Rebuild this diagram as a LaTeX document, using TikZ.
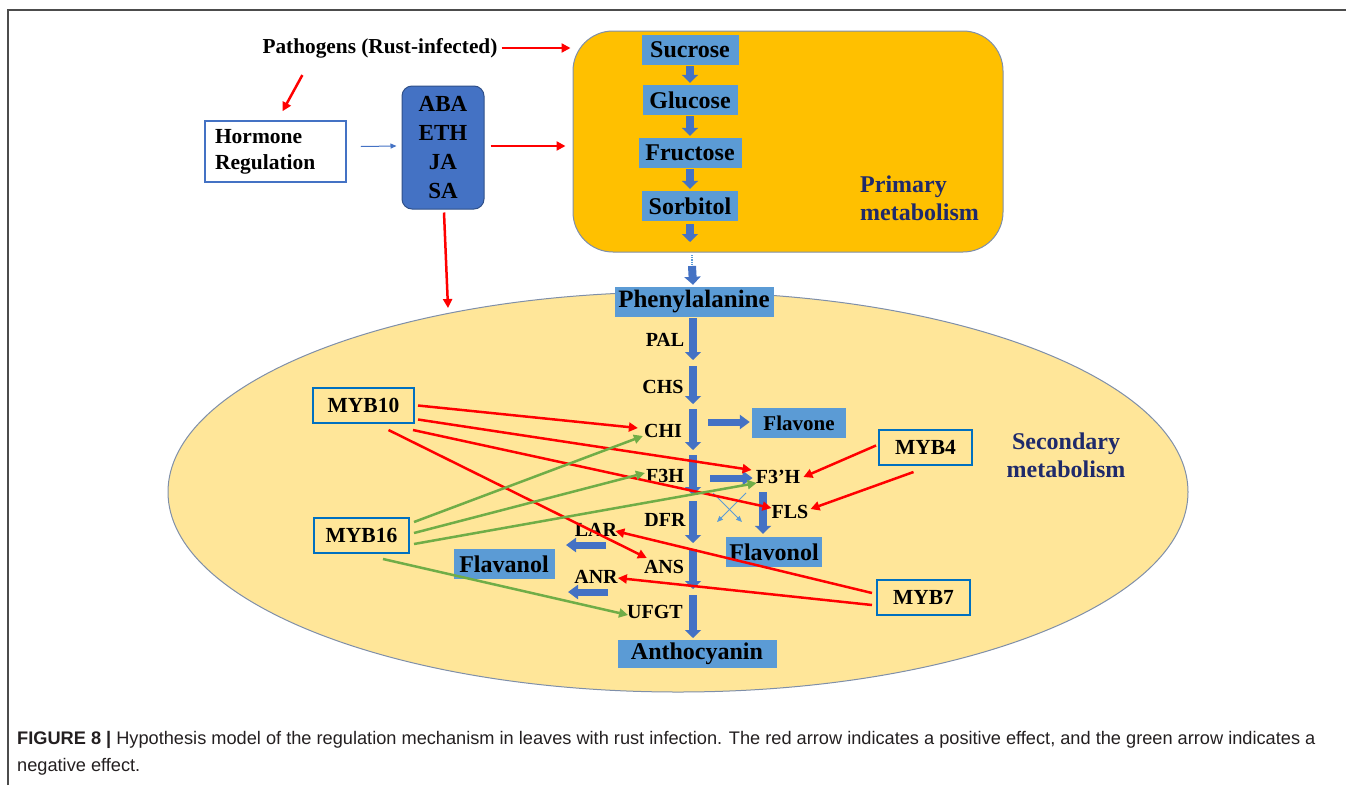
\documentclass[tikz,border=0pt]{standalone}
\usepackage{fontspec}
\setmainfont{Liberation Serif}
\setsansfont{Liberation Sans}
\usetikzlibrary{arrows.meta,calc}
\definecolor{boxblue}{HTML}{5B9BD5}
\definecolor{darkblue}{HTML}{4472C4}
\definecolor{mybblue}{HTML}{0070C0}
\definecolor{prim}{HTML}{FFC000}
\definecolor{sec}{HTML}{FFE699}
\definecolor{navy}{HTML}{1F2A6B}
\definecolor{posred}{HTML}{FF0000}
\definecolor{neggreen}{HTML}{70AD47}
\definecolor{captxt}{HTML}{231F20}
\definecolor{edgegray}{HTML}{7F8FA9}
\begin{document}
\begin{tikzpicture}[x=1pt,y=-1pt,
  every node/.style={inner sep=0pt},
  met/.style={fill=boxblue, minimum height=30, font=\fontsize{24}{26}\selectfont\bfseries},
  enz/.style={font=\fontsize{20}{22}\selectfont\bfseries},
  mybbox/.style={draw=mybblue, line width=2, minimum width=93, minimum height=35, font=\fontsize{21.5}{22}\selectfont\bfseries},
  posarrow/.style={draw=posred, line width=2.5, -{Triangle[length=9pt,width=9pt]}},
  negarrow/.style={draw=neggreen, line width=2.5, -{Triangle[length=9pt,width=9pt]}},
  blk/.style={draw=darkblue, line width=8, -{Triangle[length=8pt,width=16pt]}},
  thinblue/.style={draw=darkblue, line width=1, -{Triangle[length=6pt,width=5pt]}},
]
\useasboundingbox (0,0) rectangle (1346,785);
% frame
\draw[black!70, line width=1.5] (8,785) -- (8,10) -- (1346,10);

% primary metabolism container
\node[draw=edgegray, line width=1, fill=prim, rounded corners=40, minimum width=430, minimum height=221] (prim) at (788,141.5) {};
\node[anchor=west, align=left, text=navy, font=\fontsize{24}{28}\selectfont\bfseries] (primlbl) at (860,198) {Primary\\metabolism};

% secondary metabolism ellipse
\draw[edgegray, line width=1, fill=sec] (678,492) ellipse [x radius=510, y radius=200];
\coordinate (secTop) at (448,308);
\node[align=center, text=navy, font=\fontsize{24}{28}\selectfont\bfseries] (seclbl) at (1066,455) {Secondary\\metabolism};

% top-left
\node[font=\fontsize{21.3}{22}\selectfont\bfseries] (path) at (380,48) {Pathogens (Rust-infected)};
\node[draw=darkblue, line width=1.5, fill=white, minimum width=141, minimum height=61, text width=121, align=left, inner xsep=10, font=\fontsize{21.5}{26}\selectfont\bfseries] (horm) at (275.5,151.5) {Hormone\\Regulation};
\node[draw=darkblue!70!black, line width=1, fill=darkblue, rounded corners=10, minimum width=82, minimum height=123, align=center, font=\fontsize{23}{29}\selectfont\bfseries] (aba) at (443,147.5) {ABA\\ETH\\JA\\SA};

\draw[posarrow] ($(path.east)+(4,0)$) -- ($(prim.west |- path.east)+(-2,0)$);
\draw[posarrow] ($(path.south west)+(40,17)$) -- ($(horm.north)+(7,-9)$);
\draw[thinblue] ($(horm.east)+(14,-5)$) -- ($(aba.west)+(-5,-1.5)$);
\draw[posarrow] ($(aba.east)+(6,-1.5)$) -- ($(prim.west)+(-7,4.5)$);
\draw[posarrow] ($(aba.south)+(1,3)$) -- (secTop);

% primary chain
\node[met, minimum width=97] (suc) at (690,50) {Sucrose};
\node[met, minimum width=95] (glu) at (690,100) {Glucose};
\node[met, minimum width=103] (fru) at (690,153) {Fructose};
\node[met, minimum width=96] (sor) at (690,206) {Sorbitol};
\coordinate (sorOut) at (690,242);
\draw[blk] ($(suc.south)+(0,1)$) -- ($(glu.north)+(0,-2)$);
\draw[blk] ($(glu.south)+(0,1)$) -- ($(fru.north)+(0,-2)$);
\draw[blk] ($(fru.south)+(0,1)$) -- ($(sor.north)+(0,-2)$);
\draw[blk] ($(sor.south)+(0,3)$) -- (sorOut);

% phenylalanine
\node[met, minimum width=159, font=\fontsize{25}{26}\selectfont\bfseries] (phe) at (694,302) {Phenylalanine};
\coordinate (dotA) at (692,255);
\coordinate (dotB) at (692,266);
\draw[boxblue, line width=1.2, densely dotted] (dotA) -- (dotB);
\draw[blk] (dotB) -- ($(phe.north)+(-1,-2)$);

% enzymes
\node[enz] (pal) at (665,340) {PAL};
\node[enz] (chs) at (663,387) {CHS};
\node[enz] (chi) at (663,431) {CHI};
\node[enz] (f3h) at (665,476) {F3H};
\node[enz] (dfr) at (665,520) {DFR};
\node[enz] (ans) at (664,567) {ANS};
\node[enz] (ufgt) at (655,612) {UFGT};
\node[met, minimum width=159, minimum height=28] (anth) at (697,654) {Anthocyanin};

% main pathway arrows
\foreach \a/\b in {318/360, 366/404, 409/450, 455/495, 501/543, 549/589, 595/638}{
  \draw[blk] (693,\a) -- (693,\b);
}

% flavone / flavonol branch
\node[met, minimum width=94, font=\fontsize{21}{24}\selectfont\bfseries] (flavone) at (799,423) {Flavone};
\node[enz] (f3ph) at (778,477) {F3’H};
\node[enz] (fls) at (790,512) {FLS};
\node[met, minimum width=96] (flavonol) at (774,552) {Flavonol};
\draw[blk, line width=7, -{Triangle[length=10pt,width=14pt]}] (708,422) -- ($(flavone.west)+(-2,-1)$);
\draw[blk, line width=7, -{Triangle[length=10pt,width=14pt]}] (710,478) -- ($(f3ph.west)+(-3,1)$);
\draw[blk] (763,492) -- ($(flavonol.north -| 763,0)+(0,-3)$);
\draw[thinblue, draw=boxblue] (713,493) -- (742,522);
\draw[thinblue, draw=boxblue] (746,493) -- (717,522);

% flavanol branch
\node[enz] (lar) at (596,530) {LAR};
\node[enz] (anr) at (596,577) {ANR};
\node[met, minimum width=101] (flavanol) at (504,564) {Flavanol};
\draw[blk, line width=7, -{Triangle[length=10pt,width=14pt]}] (606,545) -- (566,545);
\draw[blk, line width=7, -{Triangle[length=10pt,width=14pt]}] (608,592) -- (568,592);

% MYB boxes
\node[mybbox, minimum width=101] (myb10) at (363.5,405.5) {MYB10};
\node[mybbox, minimum width=95] (myb16) at (361.5,535.5) {MYB16};
\node[mybbox] (myb4) at (925.5,447.5) {MYB4};
\node[mybbox] (myb7) at (923.5,597.5) {MYB7};

% positive (red)
\draw[posarrow] ($(myb10.east)+(3,0)$) -- ($(chi.west)+(-6,-3)$);
\draw[posarrow] ($(myb10.east)+(3,14)$) -- ($(f3ph.west)+(-4,-7)$);
\draw[posarrow] ($(myb10.south east)+(-2,6)$) -- ($(fls.west)+(0,-4)$);
\draw[posarrow] ($(myb10.south)+(25,6)$) -- ($(ans.west)+(3,-9)$);
\draw[posarrow] ($(myb4.west)+(-2,-2)$) -- ($(f3ph.east)+(3,0)$);
\draw[posarrow] ($(myb4.south)+(-12,6)$) -- ($(fls.east)+(2,-3)$);
\draw[posarrow] ($(myb7.west)+(-4,-4.5)$) -- ($(lar.east)+(-2,1)$);
\draw[posarrow] ($(myb7.west)+(-4,7.5)$) -- ($(anr.east)+(0,1)$);

% negative (green)
\draw[negarrow] ($(myb16.east)+(4,-13.5)$) -- ($(chi.west)+(-1,5)$);
\draw[negarrow] ($(myb16.east)+(4,-2.5)$) -- ($(f3h.west)+(-1,-3)$);
\draw[negarrow] ($(myb16.east)+(4,8.5)$) -- ($(f3ph.west)+(1,6)$);
\draw[negarrow] ($(myb16.south)+(21.5,5)$) -- ($(ufgt.west)+(1,3)$);

% caption
\node[anchor=west, text=captxt, font=\sffamily\fontsize{18.2}{20}\selectfont] (cap1) at (17,740) {\textbf{FIGURE 8 |} Hypothesis model of the regulation mechanism in leaves with rust infection. The red arrow indicates a positive effect, and the green arrow indicates a};
\node[anchor=west, text=captxt, font=\sffamily\fontsize{18.2}{20}\selectfont] (cap2) at (17,767) {negative effect.};
\end{tikzpicture}
\end{document}
